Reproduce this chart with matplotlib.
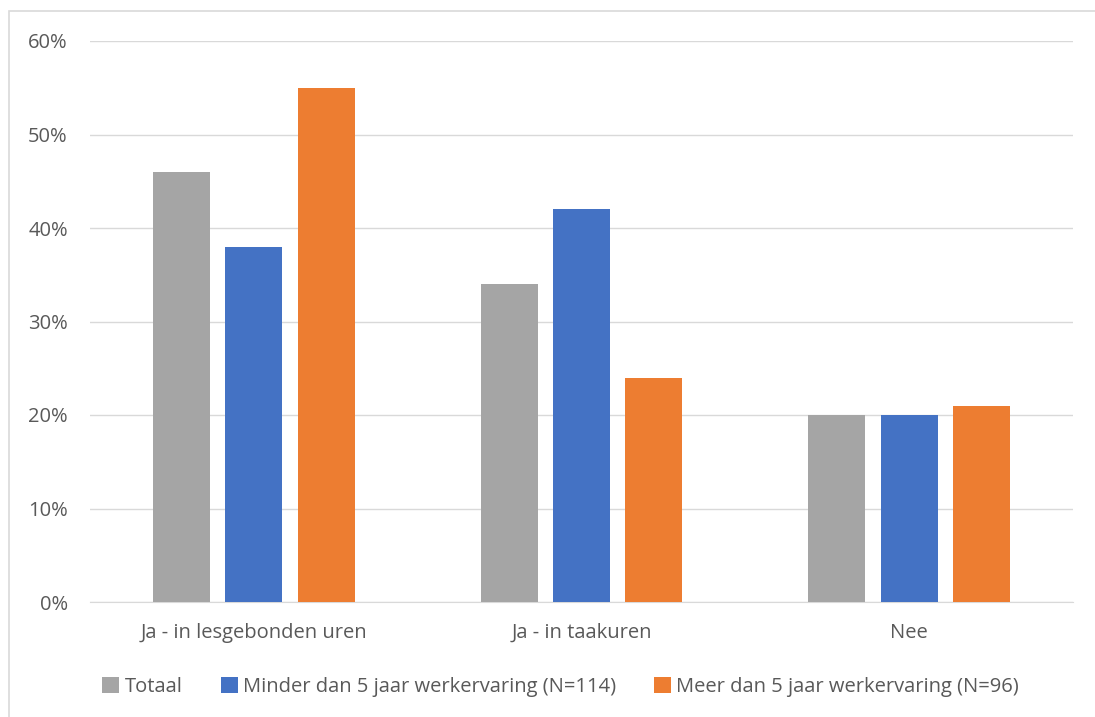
import numpy as np
import matplotlib.pyplot as plt
from matplotlib.patches import Rectangle

# data
categorieen = ['Ja - in lesgebonden uren', 'Ja - in taakuren', 'Nee']
reeksen = ['Totaal', 'Minder dan 5 jaar werkervaring (N=114)', 'Meer dan 5 jaar werkervaring (N=96)']
totaal = [46, 34, 20]
minder = [38, 42, 20]
meer = [55, 24, 21]
kleuren = ['#A5A5A5', '#4472C4', '#ED7D31']

plt.rcParams['font.family'] = ['Open Sans', 'DejaVu Sans']
tekst = '#595959'

fig = plt.figure(figsize=(10.95, 7.17), dpi=100)
ax = fig.add_axes([90 / 1095, 115 / 717, 983 / 1095, 561 / 717])

x = np.arange(len(categorieen))
breedte = 0.174
stap = 0.221
for i, (waarden, naam) in enumerate(zip([totaal, minder, meer], reeksen)):
    ax.bar(x + (i - 1) * stap, waarden, breedte, color=kleuren[i], label=naam, zorder=3)

ax.set_xlim(-0.5, 2.5)
ax.set_ylim(0, 60)
ax.set_yticks(range(0, 61, 10))
ax.set_yticklabels([f'{v}%' for v in range(0, 61, 10)])
ax.set_xticks(x)
ax.set_xticklabels(categorieen)
ax.yaxis.grid(True, color='#D9D9D9', linewidth=1, zorder=0)
for s in ['top', 'right', 'left']:
    ax.spines[s].set_visible(False)
ax.spines['bottom'].set_color('#D9D9D9')
ax.tick_params(axis='both', length=0, labelsize=14.5, colors=tekst)
ax.tick_params(axis='y', pad=16)
ax.tick_params(axis='x', pad=15)

leg = fig.legend(loc='center', bbox_to_anchor=(0.512, 1 - 687 / 717), ncol=3, frameon=False,
                 fontsize=14.5, handlelength=0.85, handleheight=0.85, handletextpad=0.25, columnspacing=1.9)
for t in leg.get_texts():
    t.set_color(tekst)

# rand rond de grafiek
fig.patches.append(Rectangle((9 / 1095, -0.1), 1.2, 1 - 11 / 717 + 0.1, transform=fig.transFigure,
                             fill=False, edgecolor='#D9D9D9', linewidth=1.2))

fig.savefig('out.png', dpi=100)
